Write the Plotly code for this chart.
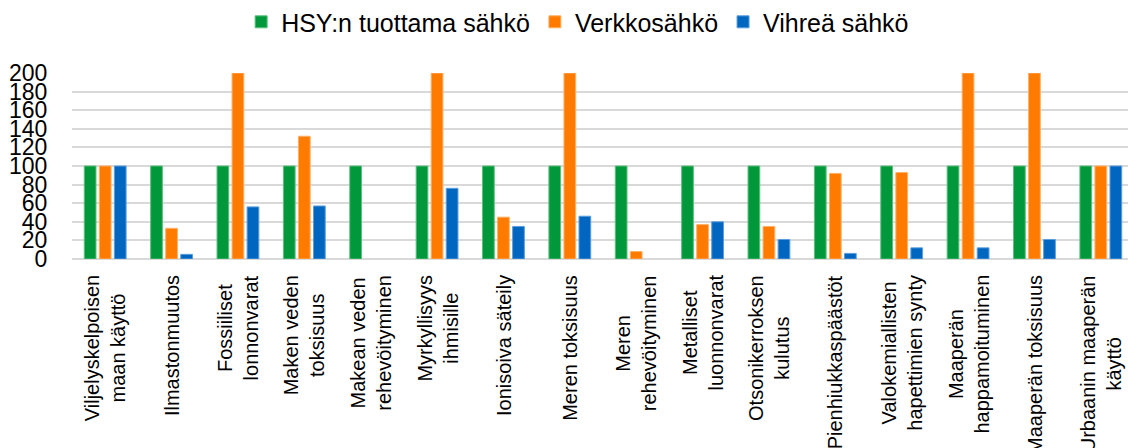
import plotly.graph_objects as go

categories = [
    "Viljelyskelpoisen<br>maan käyttö",
    "Ilmastonmuutos",
    "Fossiiliset<br>lonnonvarat",
    "Maken veden<br>toksisuus",
    "Makean veden<br>rehevöityminen",
    "Myrkyllisyys<br>ihmisille",
    "Ionisoiva säteily",
    "Meren toksisuus",
    "Meren<br>rehevöityminen",
    "Metalliset<br>luonnonvarat",
    "Otsonikerroksen<br>kulutus",
    "Pienhiukkaspäästöt",
    "Valokemiallisten<br>hapettimien synty",
    "Maaperän<br>happamoituminen",
    "Maaperän toksisuus",
    "Urbaanin maaperän<br>käyttö",
]

hsy = [100, 100, 100, 100, 100, 100, 100, 100, 100, 100, 100, 100, 100, 100, 100, 100]
verkko = [100, 33, 200, 132, 0, 200, 45, 200, 8, 37, 35, 92, 93, 200, 200, 100]
vihrea = [100, 5, 56, 57, 0, 76, 35, 46, 0, 40, 21, 6, 12, 12, 21, 100]

series_names = ["HSY:n tuottama sähkö", "Verkkosähkö", "Vihreä sähkö"]
colors = ["#00983A", "#FF7B00", "#0066C0"]
edge_colors = ["#5CC07F", "#FFB066", "#5C9EDC"]

fig = go.Figure()
for name, vals, c, ec in zip(series_names, [hsy, verkko, vihrea], colors, edge_colors):
    fig.add_trace(go.Bar(
        x=categories, y=vals, name=name,
        marker=dict(color=c, line=dict(color=ec, width=[0 if v == 0 else 1 for v in vals])),
    ))

for cat in categories:
    fig.add_annotation(
        x=cat, xref="x", y=0, yref="paper",
        text=cat, textangle=-90, align="center",
        xanchor="center", yanchor="top", yshift=-14,
        showarrow=False, font=dict(size=20, color="#000000"),
    )

# page body adds an 8px offset; figure sized to fit the 1136x448 window
fig.update_layout(
    width=1128, height=440,
    margin=dict(l=64, r=2, t=65, b=189, autoexpand=False),
    paper_bgcolor="white", plot_bgcolor="white",
    barmode="group", bargap=0.32, bargroupgap=0.22,
    font=dict(family="Liberation Sans, Arial, sans-serif", color="#000000"),
    showlegend=True,
    legend=dict(
        orientation="h", xref="container", x=0.505, xanchor="center",
        yref="container", y=0.968, yanchor="middle",
        font=dict(size=25), traceorder="normal",
        itemwidth=30,
    ),
)

fig.update_yaxes(
    range=[0, 200], dtick=20, tick0=0, automargin=False,
    showgrid=True, gridcolor="#D9D9D9", gridwidth=2,
    zeroline=True, zerolinecolor="#D9D9D9", zerolinewidth=2,
    showline=False,
    ticks="outside", ticklen=19, tickcolor="rgba(0,0,0,0)",
    tickfont=dict(size=23),
)
fig.update_xaxes(
    showticklabels=False, automargin=False,
    showgrid=False, showline=False, ticks="",
)

fig.write_html("out.html")
